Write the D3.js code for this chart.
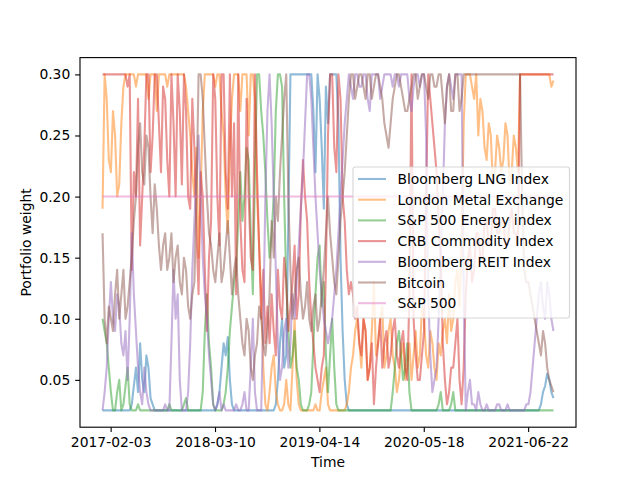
<!DOCTYPE html>
<html><head><meta charset="utf-8">
<script src="https://cdn.jsdelivr.net/npm/d3@7"></script>
<style>body{margin:0;background:#fff}text{font-family:"DejaVu Sans",sans-serif;fill:#000}</style>
</head><body><svg id="c" width="640" height="480"></svg>
<script>
const startDate = "2017-01-03";
const stepDays = 8;
const seriesNames = ["Bloomberg LNG Index","London Metal Exchange","S&P 500 Energy index","CRB Commodity Index","Bloomberg REIT Index","Bitcoin","S&P 500"];
const colors = ["#1f77b4","#ff7f0e","#2ca02c","#d62728","#9467bd","#8c564b","#e377c2"];
const yTicks = [0.05,0.10,0.15,0.20,0.25,0.30];
const xTickLabels = ["2017-02-03","2018-03-10","2019-04-14","2020-05-18","2021-06-22"];

const lng = [
.025,.025,.025,.025,.025,.025,.025,.025,.025,.025,.025,.025,.025,.025,.03,.045,.06,.04,.08,.05,
.04,.07,.06,.035,.03,.025,.025,.025,.025,.025,.025,.025,.025,.025,.025,.025,.025,.025,.025,.025,
.025,.025,.025,.025,.025,.025,.025,.025,.025,.025,.025,.025,.025,.025,.025,.03,.04,.06,.08,.07,
.085,.05,.03,.025,.025,.025,.025,.025,.025,.025,.025,.025,.025,.025,.025,.025,.025,.025,.025,.025,
.025,.025,.025,.03,.05,.08,.1,.06,.07,.18,.3,.3,.3,.3,.3,.3,.3,.3,.3,.3,
.3,.27,.22,.3,.28,.24,.19,.29,.26,.3,.3,.3,.3,.26,.15,.09,.05,.03,.025,.025,
.025,.025,.025,.025,.025,.025,.025,.025,.025,.025,.025,.025,.025,.025,.025,.025,.025,.025,.025,.025,
.025,.025,.025,.025,.025,.025,.025,.025,.025,.025,.025,.025,.025,.025,.025,.025,.025,.025,.025,.025,
.025,.025,.025,.025,.025,.025,.025,.025,.025,.025,.025,.025,.025,.025,.025,.025,.025,.025,.025,.025,
.025,.025,.025,.025,.025,.025,.025,.025,.025,.025,.025,.025,.025,.025,.025,.025,.025,.025,.025,.025,
.025,.025,.025,.025,.025,.025,.025,.025,.025,.025,.03,.04,.045,.055,.05,.04,.035];
const lme = [
.19,.3,.28,.23,.22,.27,.25,.2,.21,.26,.29,.3,.3,.3,.3,.3,.29,.3,.3,.3,
.3,.3,.28,.3,.3,.3,.27,.3,.3,.3,.3,.29,.3,.3,.3,.3,.3,.3,.3,.3,
.29,.27,.25,.22,.2,.24,.15,.2,.27,.3,.3,.3,.3,.3,.29,.3,.3,.27,.25,.2,
.17,.24,.28,.3,.3,.3,.27,.3,.3,.3,.25,.3,.3,.28,.2,.16,.12,.06,.03,.025,
.04,.06,.07,.04,.03,.025,.025,.03,.05,.03,.025,.06,.1,.05,.03,.025,.025,.025,.025,.025,
.025,.025,.03,.025,.025,.04,.05,.06,.03,.025,.025,.025,.025,.025,.025,.025,.025,.03,.04,.06,
.07,.09,.1,.08,.06,.1,.09,.05,.06,.09,.13,.07,.08,.1,.11,.06,.07,.09,.1,.07,
.06,.04,.05,.07,.08,.05,.06,.08,.05,.07,.09,.06,.07,.11,.1,.07,.06,.09,.08,.06,
.05,.08,.07,.09,.1,.08,.12,.09,.1,.13,.14,.11,.16,.26,.3,.3,.3,.29,.28,.3,
.25,.28,.27,.24,.23,.26,.25,.21,.22,.25,.24,.22,.23,.26,.25,.21,.22,.25,.24,.22,
.3,.3,.3,.3,.3,.3,.3,.3,.3,.3,.3,.3,.3,.3,.3,.29,.295];
const energy = [
.1,.09,.08,.06,.04,.025,.025,.04,.05,.025,.03,.045,.06,.03,.025,.025,.025,.03,.025,.025,
.025,.025,.025,.025,.025,.025,.025,.025,.025,.025,.025,.025,.03,.025,.025,.025,.025,.025,.025,.03,
.035,.025,.025,.025,.025,.025,.025,.025,.04,.09,.12,.08,.06,.03,.025,.025,.025,.025,.03,.04,
.06,.09,.11,.13,.14,.18,.22,.18,.2,.24,.23,.17,.12,.22,.3,.3,.27,.25,.22,.18,
.15,.17,.2,.27,.3,.3,.29,.2,.13,.09,.06,.07,.09,.06,.05,.03,.025,.025,.025,.03,
.04,.08,.12,.15,.16,.11,.13,.07,.04,.07,.1,.06,.03,.025,.025,.025,.025,.025,.025,.025,
.025,.025,.025,.025,.025,.025,.025,.025,.025,.025,.025,.025,.025,.025,.025,.025,.025,.025,.025,.04,
.06,.08,.09,.07,.05,.06,.08,.04,.025,.025,.025,.025,.025,.025,.025,.025,.025,.025,.025,.025,
.025,.03,.04,.025,.025,.025,.025,.03,.04,.025,.025,.025,.025,.025,.025,.025,.025,.025,.025,.025,
.025,.025,.025,.025,.025,.025,.025,.025,.025,.025,.025,.025,.025,.025,.025,.025,.025,.025,.025,.025,
.025,.025,.025,.025,.025,.025,.025,.025,.025,.025,.025,.025,.025,.025,.025,.025,.025];
const crb = [
.3,.3,.3,.3,.3,.3,.3,.3,.3,.3,.3,.3,.29,.3,.14,.22,.2,.28,.16,.2,
.24,.3,.3,.22,.25,.3,.3,.26,.22,.29,.28,.23,.2,.3,.26,.2,.3,.27,.21,.3,
.27,.2,.19,.28,.24,.17,.12,.22,.2,.14,.09,.15,.18,.3,.28,.2,.16,.3,.3,.22,
.19,.3,.2,.26,.12,.3,.18,.14,.13,.28,.2,.15,.14,.3,.22,.16,.1,.14,.08,.11,
.08,.12,.09,.07,.14,.11,.1,.15,.13,.09,.11,.13,.16,.1,.12,.19,.23,.2,.18,.13,
.1,.08,.06,.05,.04,.06,.07,.14,.25,.3,.3,.24,.22,.3,.28,.2,.18,.14,.12,.13,
.12,.1,.11,.08,.07,.1,.09,.05,.06,.08,.03,.06,.08,.1,.06,.08,.09,.06,.07,.09,
.1,.07,.06,.08,.09,.06,.05,.12,.3,.1,.07,.05,.05,.07,.09,.2,.3,.28,.26,.24,
.22,.18,.15,.08,.05,.03,.04,.06,.06,.08,.1,.05,.03,.06,.12,.15,.16,.13,.14,.17,
.17,.15,.15,.18,.18,.16,.16,.19,.19,.17,.17,.18,.18,.16,.16,.18,.19,.17,.17,.16,
.3,.3,.3,.3,.3,.3,.3,.3,.3,.3,.3,.3,.3,.3,.3,.3,.3];
const reit = [
.025,.04,.06,.1,.13,.1,.09,.12,.11,.08,.07,.09,.05,.1,.17,.12,.09,.06,.04,.03,
.06,.04,.03,.025,.025,.025,.025,.025,.025,.025,.03,.025,.025,.08,.14,.1,.12,.05,.025,.025,
.025,.04,.08,.14,.18,.22,.25,.2,.15,.12,.1,.07,.05,.03,.025,.03,.04,.025,.03,.025,
.025,.025,.025,.025,.03,.025,.025,.03,.04,.025,.025,.06,.1,.04,.025,.025,.025,.1,.2,.27,
.3,.26,.2,.14,.08,.05,.06,.09,.1,.06,.08,.12,.1,.13,.16,.19,.22,.26,.3,.3,
.28,.24,.2,.17,.14,.12,.1,.09,.08,.09,.1,.12,.14,.17,.2,.23,.26,.28,.3,.29,
.28,.3,.3,.29,.29,.3,.3,.28,.27,.3,.3,.3,.3,.28,.29,.3,.3,.3,.3,.29,
.3,.3,.29,.3,.3,.3,.3,.28,.27,.29,.3,.3,.29,.3,.3,.25,.12,.07,.04,.05,
.06,.1,.15,.2,.26,.29,.3,.29,.28,.3,.3,.3,.3,.12,.025,.04,.05,.03,.03,.025,
.04,.03,.025,.025,.03,.025,.025,.025,.025,.03,.03,.025,.025,.025,.03,.025,.025,.025,.025,.025,
.025,.025,.025,.03,.03,.04,.06,.08,.1,.12,.13,.11,.1,.13,.12,.1,.09];
const bitcoin = [
.17,.1,.08,.11,.1,.09,.12,.14,.1,.12,.14,.1,.11,.13,.15,.18,.2,.24,.26,.22,
.21,.25,.24,.2,.17,.21,.19,.16,.14,.16,.17,.14,.15,.17,.13,.15,.16,.13,.12,.15,
.14,.11,.1,.12,.13,.2,.3,.3,.28,.24,.2,.17,.16,.14,.13,.15,.17,.13,.14,.16,
.18,.15,.12,.14,.15,.12,.1,.08,.07,.1,.09,.06,.05,.07,.08,.11,.1,.08,.07,.09,
.12,.18,.15,.2,.18,.22,.25,.28,.3,.2,.14,.1,.12,.14,.15,.12,.1,.11,.13,.1,
.09,.11,.12,.09,.1,.12,.14,.17,.2,.17,.15,.13,.12,.15,.18,.2,.22,.25,.28,.3,
.3,.28,.29,.3,.3,.29,.28,.3,.3,.28,.29,.3,.3,.29,.28,.26,.25,.24,.26,.28,
.29,.3,.3,.29,.28,.27,.27,.28,.29,.3,.3,.28,.29,.3,.3,.29,.28,.3,.3,.29,
.29,.3,.3,.28,.26,.29,.3,.27,.27,.3,.3,.27,.28,.3,.3,.3,.3,.3,.3,.3,
.3,.3,.3,.3,.3,.3,.3,.3,.3,.3,.3,.3,.3,.3,.3,.3,.3,.3,.3,.3,
.3,.2,.14,.13,.13,.12,.11,.1,.09,.08,.07,.09,.08,.06,.05,.045,.04];
const sp500 = [
.2,.2,.2,.2,.2,.2,.2,.2,.2,.2,.2,.2,.2,.2,.2,.2,.2,.2,.2,.2,
.2,.2,.2,.2,.2,.2,.2,.2,.2,.2,.2,.2,.2,.2,.2,.2,.2,.2,.2,.2,
.2,.2,.2,.2,.2,.2,.2,.2,.2,.2,.2,.2,.2,.2,.2,.2,.2,.2,.2,.2,
.2,.2,.2,.2,.2,.2,.2,.2,.2,.2,.2,.2,.2,.2,.2,.2,.2,.2,.2,.2,
.2,.2,.2,.2,.2,.2,.2,.2,.2,.2,.2,.2,.2,.2,.2,.2,.2,.2,.2,.2,
.2,.2,.2,.2,.2,.2,.2,.2,.2,.2,.2,.2,.2,.2,.2,.2,.2,.2,.2,.2,
.2,.2,.2,.2,.2,.2,.2,.2,.2,.2,.2,.2,.2,.2,.2,.2,.2,.2,.2,.2,
.2,.2,.2,.2,.2,.2,.2,.2,.2,.2,.2,.2,.2,.2,.2,.2,.2,.2,.2,.2,
.2,.2,.2,.2,.2,.2,.2,.2,.2,.2,.2,.2,.2,.2,.2,.2,.2,.2,.2,.2,
.2,.2,.2,.2,.2,.2,.2,.2,.2,.2,.2,.2,.2,.2,.2,.2,.2,.2,.2,.2,
.2,.2,.2,.2,.2,.2,.2,.2,.2,.2,.2,.2,.2,.2,.2,.2,.2];

const allSeries = [lng, lme, energy, crb, reit, bitcoin, sp500];
const parse = d3.utcParse("%Y-%m-%d");
const t0 = parse(startDate);
const nPts = d3.max(allSeries, s => s.length);
const dates = d3.range(nPts).map(i => d3.utcDay.offset(t0, i * stepDays));

const pt = 100 / 72;
const L = 80, R = 576, T = 57.6, B = 427.2;
const svg = d3.select("#c");
const dMin = dates[0], dMax = dates[dates.length - 1];
const span = dMax - dMin;
const x = d3.scaleUtc().domain([new Date(+dMin - span * 0.05), new Date(+dMax + span * 0.05)]).range([L, R]);
const yMin = 0.025, yMax = 0.30, ys = (yMax - yMin) * 0.05;
const y = d3.scaleLinear().domain([yMin - ys, yMax + ys]).range([B, T]);

svg.append("clipPath").attr("id", "clp").append("rect")
  .attr("x", L).attr("y", T).attr("width", R - L).attr("height", B - T);

const line = d3.line().x((d, i) => x(dates[i])).y(d => y(d));
const g = svg.append("g").attr("clip-path", "url(#clp)");
allSeries.forEach((s, k) => {
  g.append("path").attr("d", line(s)).attr("fill", "none")
    .attr("stroke", colors[k]).attr("stroke-opacity", 0.5).attr("stroke-width", 1.5 * pt)
    .attr("stroke-linejoin", "round").attr("stroke-linecap", "butt");
});

const fs = 10 * pt;
const tl = 3.5 * pt;
const xAxis = d3.axisBottom(x).tickValues(xTickLabels.map(parse)).tickFormat(d3.utcFormat("%Y-%m-%d"))
  .tickSize(tl).tickSizeOuter(0).tickPadding(tl);
const gx = svg.append("g").attr("transform", `translate(0,${B})`).call(xAxis);
gx.select(".domain").remove();
gx.selectAll("line").attr("stroke", "#000").attr("stroke-width", 0.8 * pt);
gx.selectAll("text").attr("font-size", fs).attr("font-family", "DejaVu Sans").attr("fill", "#000");

const yAxis = d3.axisLeft(y).tickValues(yTicks).tickFormat(d3.format(".2f")).tickSize(tl).tickSizeOuter(0).tickPadding(tl);
const gy = svg.append("g").attr("transform", `translate(${L},0)`).call(yAxis);
gy.select(".domain").remove();
gy.selectAll("line").attr("stroke", "#000").attr("stroke-width", 0.8 * pt);
gy.selectAll("text").attr("font-size", fs).attr("font-family", "DejaVu Sans").attr("fill", "#000");

svg.append("rect").attr("x", L).attr("y", T).attr("width", R - L).attr("height", B - T)
  .attr("fill", "none").attr("stroke", "#000").attr("stroke-width", 0.8 * pt);

svg.append("text").attr("x", (L + R) / 2).attr("y", 467).attr("text-anchor", "middle")
  .attr("font-size", fs).text("Time");
svg.append("text").attr("transform", `translate(31,${(T + B) / 2}) rotate(-90)`).attr("text-anchor", "middle")
  .attr("font-size", fs).text("Portfolio weight");

const lg = svg.append("g");
lg.append("rect").attr("x", 353).attr("y", 167).attr("width", 216.5).attr("height", 151).attr("rx", 2.5)
  .attr("fill", "#fff").attr("fill-opacity", 0.8).attr("stroke", "#cccccc").attr("stroke-opacity", 0.8).attr("stroke-width", 1.1);
seriesNames.forEach((n, k) => {
  const yy = 179 + k * 20.7;
  lg.append("line").attr("x1", 358).attr("x2", 386).attr("y1", yy).attr("y2", yy)
    .attr("stroke", colors[k]).attr("stroke-opacity", 0.5).attr("stroke-width", 1.5 * pt);
  lg.append("text").attr("x", 397.5).attr("y", yy + 5).attr("font-size", fs).text(n);
});
</script></body></html>
